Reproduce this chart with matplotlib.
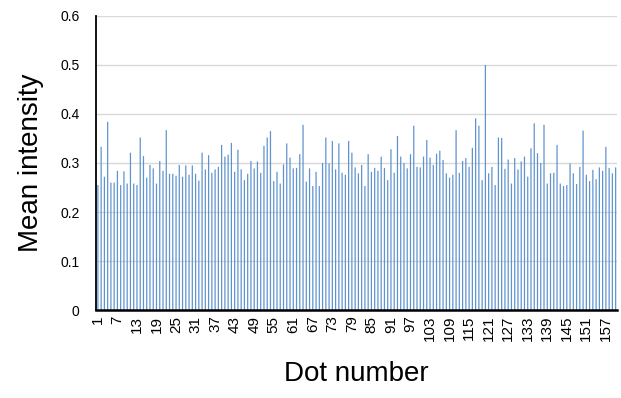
import matplotlib
matplotlib.use("Agg")
import matplotlib.pyplot as plt
import numpy as np

# mean intensity per dot (dots 1..160)
intensity = [
    0.255, 0.333, 0.272, 0.384, 0.260, 0.260, 0.284, 0.255, 0.283, 0.258,
    0.321, 0.258, 0.255, 0.352, 0.314, 0.270, 0.296, 0.289, 0.258, 0.304,
    0.284, 0.367, 0.278, 0.278, 0.274, 0.296, 0.272, 0.295, 0.276, 0.295,
    0.278, 0.264, 0.321, 0.287, 0.316, 0.280, 0.287, 0.292, 0.337, 0.313,
    0.317, 0.341, 0.282, 0.327, 0.287, 0.265, 0.278, 0.304, 0.289, 0.303,
    0.280, 0.335, 0.352, 0.365, 0.263, 0.282, 0.258, 0.297, 0.340, 0.311,
    0.289, 0.290, 0.318, 0.378, 0.262, 0.289, 0.253, 0.282, 0.253, 0.300,
    0.352, 0.299, 0.345, 0.287, 0.340, 0.280, 0.276, 0.345, 0.321, 0.291,
    0.279, 0.296, 0.253, 0.318, 0.282, 0.290, 0.284, 0.313, 0.290, 0.265,
    0.328, 0.280, 0.355, 0.313, 0.300, 0.289, 0.318, 0.376, 0.292, 0.291,
    0.313, 0.347, 0.311, 0.296, 0.319, 0.325, 0.306, 0.279, 0.270, 0.276,
    0.367, 0.280, 0.304, 0.310, 0.292, 0.331, 0.391, 0.376, 0.265, 0.500,
    0.279, 0.292, 0.255, 0.352, 0.351, 0.288, 0.307, 0.258, 0.310, 0.287,
    0.303, 0.313, 0.272, 0.330, 0.381, 0.320, 0.300, 0.378, 0.258, 0.279,
    0.280, 0.337, 0.258, 0.253, 0.255, 0.299, 0.279, 0.257, 0.292, 0.366,
    0.276, 0.263, 0.286, 0.267, 0.291, 0.284, 0.333, 0.290, 0.279, 0.291,
]
dots = np.arange(1, len(intensity) + 1)
tick_dots = dots[::6]
yticks = [0, 0.1, 0.2, 0.3, 0.4, 0.5, 0.6]

plt.rcParams["font.family"] = ["Liberation Sans", "DejaVu Sans"]

fig = plt.figure(figsize=(6.21, 3.98), dpi=100)
ax = fig.add_axes([0.155, 0.221, 0.839, 0.739])

ax.bar(dots, intensity, width=0.38, color="#5f93cf", lw=0, snap=False,
       zorder=2)

ax.set_xlim(0.5, len(dots) + 0.5)
ax.set_ylim(0, 0.6)
ax.set_yticks(yticks)
ax.set_yticklabels([f"{v:g}" for v in yticks])
ax.set_xticks(tick_dots)
ax.set_xticklabels([str(d) for d in tick_dots], rotation=90)
ax.tick_params(axis="both", length=0)
ax.tick_params(axis="y", pad=12, labelsize=10)
ax.tick_params(axis="x", pad=4, labelsize=11)

ax.grid(axis="y", color="#d9d9d9", lw=1, zorder=0)
for s in ["top", "right"]:
    ax.spines[s].set_visible(False)
ax.spines["left"].set_linewidth(1.3)
ax.spines["bottom"].set_linewidth(1.8)

ax.set_ylabel("Mean intensity", fontsize=20, labelpad=12)
ax.set_xlabel("Dot number", fontsize=20, labelpad=14)

fig.savefig("out.png", dpi=100)
